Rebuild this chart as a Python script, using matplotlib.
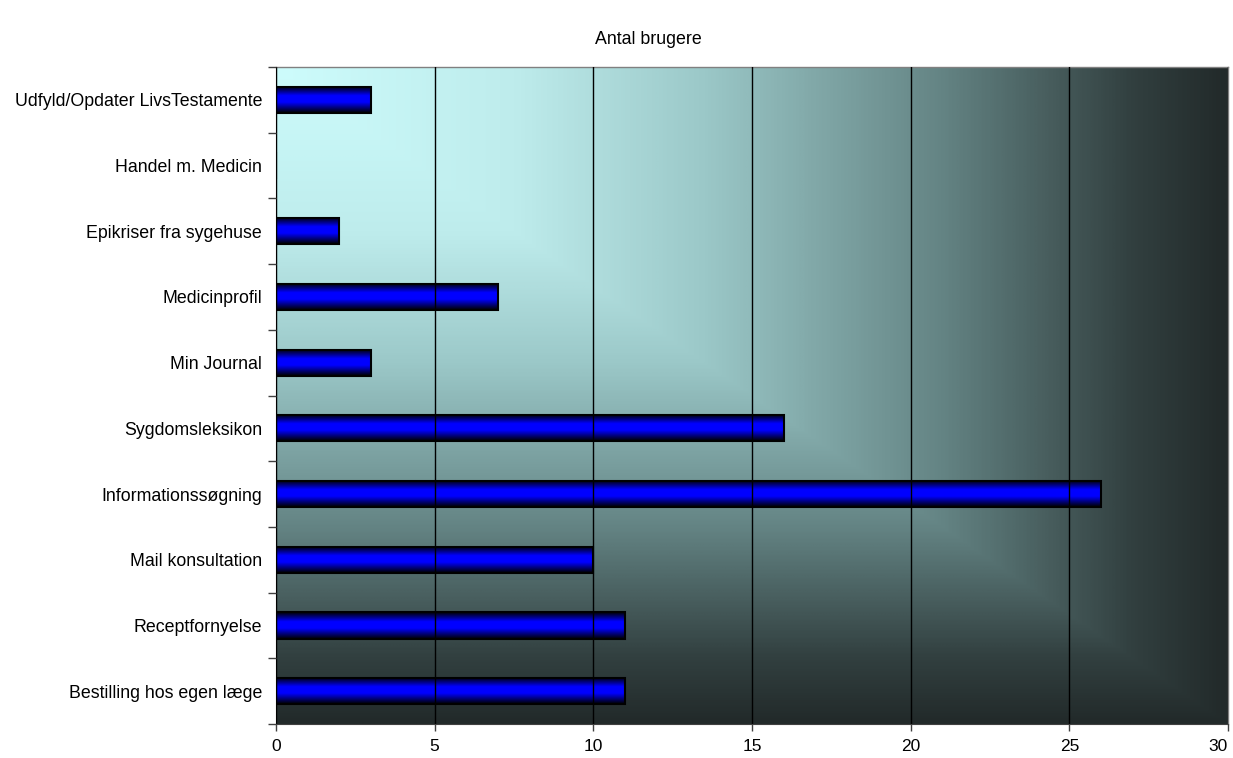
import numpy as np
import matplotlib
matplotlib.use("Agg")
import matplotlib.pyplot as plt
from matplotlib.colors import LinearSegmentedColormap
from matplotlib.ticker import FixedLocator

plt.rcParams['font.family'] = ['Liberation Sans', 'DejaVu Sans']

categories = [
    "Bestilling hos egen læge",
    "Receptfornyelse",
    "Mail konsultation",
    "Informationssøgning",
    "Sygdomsleksikon",
    "Min Journal",
    "Medicinprofil",
    "Epikriser fra sygehuse",
    "Handel m. Medicin",
    "Udfyld/Opdater LivsTestamente",
]
users = [11, 11, 10, 26, 16, 3, 7, 2, 0, 3]
title = "Antal brugere"
x_ticks = [0, 5, 10, 15, 20, 25, 30]

FS = 12.8

fig = plt.figure(figsize=(12.33, 7.58), dpi=100)
ax = fig.add_axes([276 / 1233, 1 - 724 / 758, (1228 - 276) / 1233, (724 - 67) / 758])

xmin, xmax = 0, 30
n = len(categories)
ymin, ymax = -0.5, n - 0.5

# Corner gradient background: light cyan at top-left, dark slate towards the far edges
bg_cmap = LinearSegmentedColormap.from_list("bg", [
    (0.00, (205 / 255, 252 / 255, 252 / 255)),
    (0.25, (190 / 255, 236 / 255, 236 / 255)),
    (0.45, (155 / 255, 200 / 255, 200 / 255)),
    (0.70, (100 / 255, 132 / 255, 132 / 255)),
    (0.90, (50 / 255, 64 / 255, 64 / 255)),
    (1.00, (34 / 255, 42 / 255, 42 / 255)),
])
gx = np.linspace(0, 1, 600)
gy = np.linspace(0, 1, 400)
GX, GY = np.meshgrid(gx, gy)
T = np.maximum(GX, GY)
ax.imshow(T, cmap=bg_cmap, vmin=0, vmax=1, extent=(xmin, xmax, ymin, ymax),
          origin="upper", aspect="auto", zorder=0, interpolation="bilinear")

ax.xaxis.set_major_locator(FixedLocator(x_ticks))
ax.grid(axis="x", color="black", linewidth=1.0, zorder=1)
ax.set_axisbelow(False)

# Bars with a vertical black-blue-black shading
bar_cmap = LinearSegmentedColormap.from_list("bar", [
    (0.0, (0, 0, 0)), (0.35, (0, 0, 1)), (0.6, (0, 0, 1)), (1.0, (0, 0, 0))])
shade = np.linspace(0, 1, 64).reshape(-1, 1)
bars = ax.barh(range(n), users, height=0.4, facecolor="none",
               edgecolor="black", linewidth=1.5, zorder=3)
for b in bars:
    if b.get_width() <= 0:
        continue
    x0, y0, w, h = b.get_x(), b.get_y(), b.get_width(), b.get_height()
    ax.imshow(shade, cmap=bar_cmap, extent=(x0, x0 + w, y0, y0 + h),
              aspect="auto", zorder=2, interpolation="bilinear")
ax.set_xlim(xmin, xmax)
ax.set_ylim(ymin, ymax)

ax.set_yticks(range(n))
ax.set_yticklabels(categories, fontsize=FS)
ax.yaxis.set_minor_locator(FixedLocator(np.arange(ymin, ymax + 0.01, 1.0)))
ax.tick_params(axis="y", which="major", length=0, pad=10)
ax.tick_params(axis="y", which="minor", length=6, width=1, color="#404040")
ax.tick_params(axis="x", which="major", length=5, width=1, pad=6,
               labelsize=12.5, color="#404040")
ax.set_xticklabels([str(v) for v in x_ticks])
ax.get_xticklabels()[-1].set_horizontalalignment("right")

for side in ("top", "right"):
    ax.spines[side].set_color("#808080")
    ax.spines[side].set_linewidth(1)
ax.spines["left"].set_color("#404040")
ax.spines["bottom"].set_color("#404040")

fig.text(648 / 1233, 1 - 40 / 758, title, ha="center", va="center", fontsize=FS)

fig.savefig("out.png", dpi=100)
